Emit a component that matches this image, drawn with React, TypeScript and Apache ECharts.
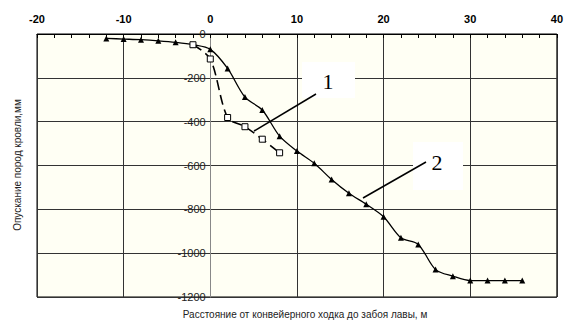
import React, { useEffect, useRef } from "react";
import * as echarts from "echarts";

const xTicks = [-20, -10, 0, 10, 20, 30, 40];
const yTicks = [0, -200, -400, -600, -800, -1000, -1200];

const s2X = [-12, -10, -8, -6, -4, -2, 0, 2, 4, 6, 8, 10, 12, 14, 16, 18, 20, 22, 24, 26, 28, 30, 32, 34, 36];
const s2Y = [-20, -23, -26, -31, -38, -49, -70, -157, -288, -347, -466, -534, -590, -664, -727, -777, -834, -930, -960, -1075, -1105, -1125, -1125, -1125, -1125];

const s1X = [-2, 0, 2, 4, 6, 8];
const s1Y = [-49, -114, -381, -423, -480, -542];

const labelNames = ["1", "2"];

const xTitle = "Расстояние от конвейерного ходка до забоя лавы, м";
const yTitle = "Опускание пород кровли,мм";

const W = 566;
const H = 322;
const GRID_LEFT = 37;
const GRID_RIGHT = 8;

export default function App() {
  const ref = useRef<HTMLDivElement>(null);
  useEffect(() => {
    if (!ref.current) return;
    const chart = echarts.init(ref.current, null, { renderer: "svg" });
    const font = "'Liberation Sans', Arial, sans-serif";
    const xMin = xTicks[0];
    const xMax = xTicks[xTicks.length - 1];
    const plotW = W - GRID_LEFT - GRID_RIGHT;
    const yAxisOffset = -((0 - xMin) / (xMax - xMin)) * plotW;
    chart.setOption({
      animation: false,
      backgroundColor: "#ffffff",
      grid: {
        left: GRID_LEFT,
        right: GRID_RIGHT,
        top: 34,
        bottom: 25,
        show: true,
        backgroundColor: "#fffff4",
        borderColor: "#000",
        borderWidth: 1,
      },
      xAxis: {
        type: "value",
        position: "top",
        min: xMin,
        max: xMax,
        interval: 10,
        axisLine: { onZero: false, lineStyle: { color: "#000" } },
        axisTick: { show: true, inside: true, length: 4, lineStyle: { color: "#000" } },
        minorTick: { show: true, splitNumber: 5, length: 4, lineStyle: { color: "#000" } },
        splitLine: { show: true, lineStyle: { color: "#333", width: 1 } },
        axisLabel: {
          fontFamily: font,
          fontSize: 11,
          fontWeight: "bold",
          color: "#000",
          margin: 10,
          formatter: (v: number) => String(v),
        },
      },
      yAxis: {
        type: "value",
        position: "left",
        offset: yAxisOffset,
        min: yTicks[yTicks.length - 1],
        max: yTicks[0],
        interval: 200,
        axisLine: { show: true, onZero: false, lineStyle: { color: "#888" } },
        axisTick: { show: false },
        splitLine: { show: true, lineStyle: { color: "#333", width: 1 } },
        axisLabel: {
          fontFamily: font,
          fontSize: 11,
          color: "#222",
          margin: 5,
          formatter: (v: number) => String(v),
        },
      },
      series: [
        {
          type: "line",
          data: s2X.map((x, i) => [x, s2Y[i]]),
          smooth: 0.3,
          symbol: "triangle",
          symbolSize: 6,
          itemStyle: { color: "#000" },
          lineStyle: { color: "#000", width: 1.3 },
          z: 3,
        },
        {
          type: "line",
          data: s1X.map((x, i) => [x, s1Y[i]]),
          smooth: 0.3,
          symbol: "rect",
          symbolSize: 6,
          itemStyle: { color: "#fff", borderColor: "#000", borderWidth: 1 },
          lineStyle: { color: "#000", width: 1.6, type: [10, 5] },
          z: 4,
        },
      ],
      graphic: [
        {
          type: "text",
          x: 17,
          y: 165,
          rotation: Math.PI / 2,
          style: {
            text: yTitle,
            fontFamily: font,
            fontSize: 10,
            fill: "#222",
            textAlign: "center",
            textVerticalAlign: "middle",
          },
        },
        {
          type: "text",
          x: 305,
          y: 314,
          style: {
            text: xTitle,
            fontFamily: font,
            fontSize: 10,
            fill: "#222",
            textAlign: "center",
            textVerticalAlign: "middle",
          },
        },
        {
          type: "rect",
          shape: { x: 302, y: 62, width: 53, height: 36 },
          style: { fill: "#fff" },
          z: 10,
        },
        {
          type: "line",
          shape: { x1: 316, y1: 94, x2: 254, y2: 131 },
          style: { stroke: "#000", lineWidth: 1.5 },
          z: 11,
        },
        {
          type: "text",
          x: 328,
          y: 81,
          style: {
            text: labelNames[0],
            fontFamily: "'Liberation Serif', 'Times New Roman', serif",
            fontSize: 22,
            fill: "#000",
            textAlign: "center",
            textVerticalAlign: "middle",
          },
          z: 12,
        },
        {
          type: "rect",
          shape: { x: 413, y: 142, width: 50, height: 48 },
          style: { fill: "#fff" },
          z: 10,
        },
        {
          type: "line",
          shape: { x1: 426, y1: 162, x2: 363, y2: 198 },
          style: { stroke: "#000", lineWidth: 1.5 },
          z: 11,
        },
        {
          type: "text",
          x: 437,
          y: 162,
          style: {
            text: labelNames[1],
            fontFamily: "'Liberation Serif', 'Times New Roman', serif",
            fontSize: 22,
            fill: "#000",
            textAlign: "center",
            textVerticalAlign: "middle",
          },
          z: 12,
        },
      ],
    });
    return () => chart.dispose();
  }, []);
  return (
    <div
      ref={ref}
      style={{ position: "fixed", left: 0, top: 0, width: W, height: H }}
    />
  );
}
